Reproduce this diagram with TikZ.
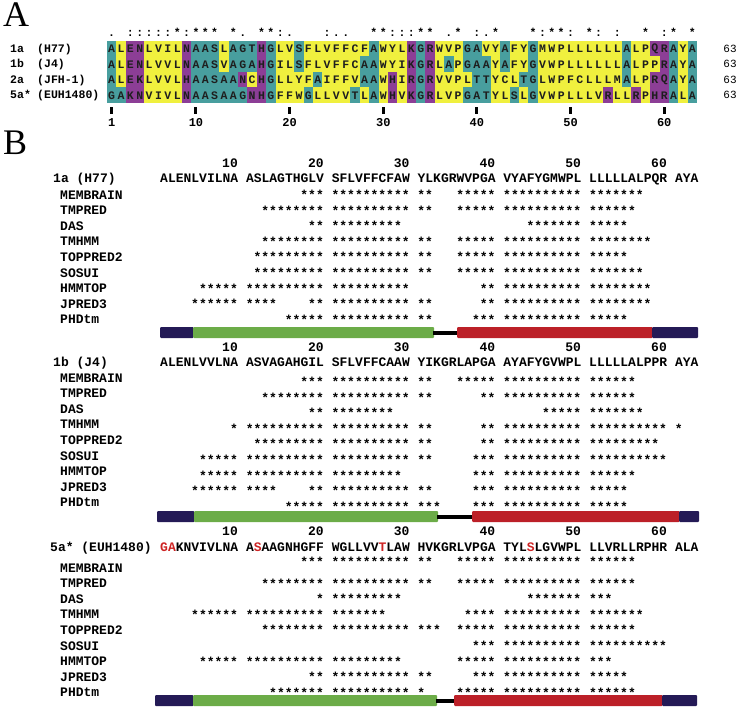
\documentclass[tikz,border=0pt]{standalone}
\usepackage{fontspec}
\setmainfont{Liberation Serif}
\setmonofont{Liberation Mono}
\usetikzlibrary{positioning}
\definecolor{alnteal}{RGB}{72,158,158}
\definecolor{alnyellow}{RGB}{240,240,62}
\definecolor{alnpurple}{RGB}{140,62,150}
\definecolor{alnink}{RGB}{30,30,30}
\definecolor{tmnavy}{RGB}{36,26,86}
\definecolor{tmgreen}{RGB}{108,172,72}
\definecolor{tmred}{RGB}{188,32,40}
\definecolor{mutred}{RGB}{205,35,35}

% residue classes for panel A
\colorlet{aa-A}{alnteal}\colorlet{aa-G}{alnteal}\colorlet{aa-S}{alnteal}\colorlet{aa-T}{alnteal}
\colorlet{aa-L}{alnyellow}\colorlet{aa-V}{alnyellow}\colorlet{aa-I}{alnyellow}\colorlet{aa-F}{alnyellow}
\colorlet{aa-M}{alnyellow}\colorlet{aa-W}{alnyellow}\colorlet{aa-Y}{alnyellow}\colorlet{aa-C}{alnyellow}
\colorlet{aa-P}{alnyellow}
\colorlet{aa-E}{alnpurple}\colorlet{aa-N}{alnpurple}\colorlet{aa-K}{alnpurple}\colorlet{aa-R}{alnpurple}
\colorlet{aa-H}{alnpurple}\colorlet{aa-Q}{alnpurple}\colorlet{aa-D}{alnpurple}

\newcommand\seqfont{\fontsize{13}{15}\selectfont\ttfamily\bfseries}
\newcommand\alnfont{\fontsize{11.5}{13}\selectfont\ttfamily\bfseries}

% one coloured alignment row: name, top, residues
\newcommand\alnrow[3]{\def\alnname{#1}\def\alny{#2}\def\alni{0}\alnnext#3\relax}
\newcommand\alnnext[1]{%
  \ifx#1\relax\else
    \pgfmathsetmacro\alnx{107+9.365*\alni}%
    \pgfmathtruncatemacro\alni{\alni+1}%
    \fill[aa-#1] (\alnx,\alny) rectangle ++(9.45,15.5);
    \node[alnres] (\alnname-\alni) at (\alnx+4.68,\alny+7.75) {#1};
    \expandafter\alnnext
  \fi}

% panel B: stars, residue numbers, prediction rows, topology bar
\newcommand\tmstars[3]{%
  \foreach \rfrom/\rto in {#3}{%
    \foreach \res in {\rfrom,...,\rto}{%
      \pgfmathtruncatemacro\tmcol{\res-1+floor((\res-1)/10)}%
      \node[tmstar] (#1-\res) at (163.9+7.8*\tmcol,#2) {*};
    }}}
\newcommand\tmnumbers[1]{%
  \foreach \n in {10,20,...,60}{%
    \pgfmathtruncatemacro\tmcol{\n-1+floor((\n-1)/10)}%
    \node[tmnum] (\tmblk-n\n) at (167.8+7.8*\tmcol,#1) {\n};
  }}
\newcommand\tmrow[4][\tmshift]{%
  \pgfmathsetmacro\tmy{\tmbase+15.55*(#2-1)}%
  \node[tmlabel] (\tmblk-#3) at (60,\tmy+4.3) {#3};
  \pgfmathsetmacro\tmsy{\tmy+#1}%
  \tmstars{\tmblk-#3-s}{\tmsy}{#4}}
\newcommand\tmbar[7]{%
  \fill[tmnavy,rounded corners=1pt] (#2,#1) rectangle (#3+0.5,#1+11);
  \fill[tmgreen,rounded corners=1pt] (#3,#1) rectangle (#4,#1+11);
  \fill[black] (#4-1,#1+3.5) rectangle (#5+1,#1+7.5);
  \fill[tmred,rounded corners=1pt] (#5,#1) rectangle (#6+0.5,#1+11);
  \fill[tmnavy,rounded corners=1pt] (#6,#1) rectangle (#7,#1+11);}

\begin{document}
\begin{tikzpicture}[x=1pt,y=-1pt,
  alnres/.style={inner sep=0pt,font=\alnfont,text=alnink},
  alnlabel/.style={anchor=base west,inner sep=0pt,font=\alnfont},
  alncount/.style={anchor=base,inner sep=0pt,font=\fontsize{11}{13}\selectfont\ttfamily},
  consym/.style={anchor=base,inner sep=0pt,font=\alnfont},
  ticknum/.style={inner sep=0pt,font=\fontsize{12}{14}\selectfont\ttfamily\bfseries},
  panelletter/.style={anchor=base west,inner sep=0pt,font=\fontsize{36}{40}\selectfont},
  tmlabel/.style={anchor=base west,inner sep=0pt,font=\seqfont},
  tmnum/.style={anchor=east,inner sep=0pt,font=\seqfont},
  tmstar/.style={inner sep=0pt,font=\seqfont}]
\useasboundingbox (0,0) rectangle (738,708);

% ---- A: alignment
\node[panelletter] (A) at (3,27) {A};
\foreach \res/\sym in {1/., 3/:, 4/:, 5/:, 6/:, 7/:, 8/*, 9/:, 10/*, 11/*, 12/*, 14/*, 15/., 17/*, 18/*,
    19/:, 20/., 24/:, 25/., 26/., 29/*, 30/*, 31/:, 32/:, 33/:, 34/*, 35/*, 37/., 38/*, 40/:, 41/.,
    42/*, 46/*, 47/:, 48/*, 49/*, 50/:, 52/*, 53/:, 55/:, 58/*, 60/:, 61/*, 63/*}
  \node[consym] (cons\res) at (102.3+9.365*\res,36.5) {\sym};
\alnrow{h77}{41}{ALENLVILNAASLAGTHGLVSFLVFFCFAWYLKGRWVPGAVYAFYGMWPLLLLLLALPQRAYA}
\alnrow{j4}{56.5}{ALENLVVLNAASVAGAHGILSFLVFFCAAWYIKGRLAPGAAYAFYGVWPLLLLLLALPPRAYA}
\alnrow{jfh}{72}{ALEKLVVLHAASAANCHGLLYFAIFFVAAWHIRGRVVPLTTYCLTGLWPFCLLLMALPRQAYA}
\alnrow{euh}{87.5}{GAKNVIVLNAASAAGNHGFFWGLLVVTLAWHVKGRLVPGATYLSLGVWPLLLVRLLRPHRALA}
\node[alnlabel] (h77-g) at (10,52.35) {1a};
\node[alnlabel] (h77-i) at (37,52.35) {(H77)};
\node[alnlabel] (j4-g) at (10,67.85) {1b};
\node[alnlabel] (j4-i) at (37,67.85) {(J4)};
\node[alnlabel] (jfh-g) at (10,83.35) {2a};
\node[alnlabel] (jfh-i) at (37,83.35) {(JFH-1)};
\node[alnlabel] (euh-g) at (10,98.85) {5a*};
\node[alnlabel] (euh-i) at (37,98.85) {(EUH1480)};
\node[alncount] (h77-n) at (730,52.35) {63};
\node[alncount] (j4-n) at (730,67.85) {63};
\node[alncount] (jfh-n) at (730,83.35) {63};
\node[alncount] (euh-n) at (730,98.85) {63};
\foreach \tk in {1,10,20,...,60}{
  \fill (100.8+9.365*\tk,107) rectangle ++(3,7);
  \node[ticknum] (tick\tk) at (102.3+9.365*\tk,123) {\tk};
}

% ---- B: topology predictions
\node[panelletter] (B) at (3,155) {B};

\def\tmblk{1a}\def\tmbase{195}\def\tmshift{0}
\node[tmlabel] (1a-name) at (53,182.3) {1a (H77)};
\node[tmlabel] (1a-seq) at (160,182.3) {ALENLVILNA ASLAGTHGLV SFLVFFCFAW YLKGRWVPGA VYAFYGMWPL LLLLLALPQR AYA};
\tmnumbers{163}
\tmrow{1}{MEMBRAIN}{18/32,36/57}
\tmrow{2}{TMPRED}{13/32,36/56}
\tmrow{3}{DAS}{19/29,44/55}
\tmrow{4}{TMHMM}{13/32,36/58}
\tmrow{5}{TOPPRED2}{12/32,36/55}
\tmrow{6}{SOSUI}{12/32,36/57}
\tmrow{7}{HMMTOP}{6/30,39/58}
\tmrow{8}{JPRED3}{5/14,19/32,39/58}
\tmrow{9}{PHDtm}{16/32,38/55}
\tmbar{327}{160}{193}{434}{457}{652}{698}

\def\tmblk{1b}\def\tmbase{378}\def\tmshift{4}
\node[tmlabel] (1b-name) at (53,366) {1b (J4)};
\node[tmlabel] (1b-seq) at (160,366) {ALENLVVLNA ASVAGAHGIL SFLVFFCAAW YIKGRLAPGA AYAFYGVWPL LLLLLALPPR AYA};
\tmnumbers{347}
\tmrow{1}{MEMBRAIN}{18/32,36/56}
\tmrow{2}{TMPRED}{13/32,39/56}
\tmrow{3}{DAS}{19/28,46/57}
\tmrow{4}{TMHMM}{10/32,39/61}
\tmrow{5}{TOPPRED2}{12/32,39/59}
\tmrow{6}{SOSUI}{6/32,38/60}
\tmrow{7}{HMMTOP}{6/29,38/56}
\tmrow{8}{JPRED3}{5/14,19/32,38/55}
\tmrow{9}{PHDtm}{16/33,38/55}
\tmbar{511}{157}{194}{438}{472}{679}{699}

\def\tmblk{5a}\def\tmbase{568}\def\tmshift{0}
\node[tmlabel] (5a-name) at (50,551) {5a* (EUH1480)};
\node[tmlabel] (5a-seq) at (160,551) {\textcolor{mutred}{GA}KNVIVLNA A\textcolor{mutred}{S}AAGNHGFF WGLLVV\textcolor{mutred}{T}LAW HVKGRLVPGA TYL\textcolor{mutred}{S}LGVWPL LLVRLLRPHR ALA};
\tmnumbers{531}
\tmrow[-6]{1}{MEMBRAIN}{18/32,36/56}
\tmrow{2}{TMPRED}{13/32,36/56}
\tmrow{3}{DAS}{20/29,44/53}
\tmrow{4}{TMHMM}{5/27,37/57}
\tmrow{5}{TOPPRED2}{13/33,36/56}
\tmrow{6}{SOSUI}{38/60}
\tmrow{7}{HMMTOP}{6/29,36/53}
\tmrow{8}{JPRED3}{19/32,38/55}
\tmrow{9}{PHDtm}{14/31,36/56}
\tmbar{695}{155}{193}{437}{454}{662}{697}
\end{tikzpicture}
\end{document}
